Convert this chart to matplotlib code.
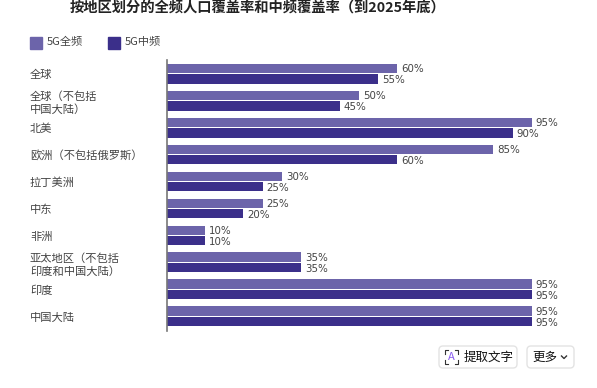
import matplotlib
matplotlib.use("Agg")
import matplotlib.pyplot as plt
from matplotlib.patches import FancyBboxPatch, Rectangle
import numpy as np

plt.rcParams['font.family'] = ['Noto Sans CJK SC', 'DejaVu Sans']

categories = ["全球", "全球（不包括\n中国大陆）", "北美", "欧洲（不包括俄罗斯）", "拉丁美洲",
              "中东", "非洲", "亚太地区（不包括\n印度和中国大陆）", "印度", "中国大陆"]
full_band = [60, 50, 95, 85, 30, 25, 10, 35, 95, 95]
mid_band = [55, 45, 90, 60, 25, 20, 10, 35, 95, 95]
series_names = ["5G全频", "5G中频"]
title = "按地区划分的全频人口覆盖率和中频覆盖率（到2025年底）"

W, H = 597, 388
LIGHT = "#6c64aa"
DARK = "#3b2f8a"
TXT = "#444444"

fig = plt.figure(figsize=(W / 100, H / 100), dpi=100)

# pixel helper for the overlay axes
bg = fig.add_axes([0, 0, 1, 1])
bg.set_xlim(0, W)
bg.set_ylim(H, 0)
bg.axis("off")

ax = fig.add_axes([166.5 / W, 1 - 330.5 / H, (W - 166.5) / W, 271 / H])
ax.patch.set_alpha(0)
y = np.arange(len(categories))
ax.barh(y - 0.2, full_band, height=0.34, color=LIGHT)
ax.barh(y + 0.2, mid_band, height=0.34, color=DARK)
ax.set_xlim(0, (W - 166.5) / 3.847)
ax.set_ylim(9.52, -0.52)

for i in range(len(categories)):
    ax.text(full_band[i] + 1, i - 0.17, f"{full_band[i]}%", va="center", ha="left",
            fontsize=7.4, color=TXT, family="DejaVu Sans")
    ax.text(mid_band[i] + 1, i + 0.23, f"{mid_band[i]}%", va="center", ha="left",
            fontsize=7.4, color=TXT, family="DejaVu Sans")

ax.set_yticks(y)
ax.set_yticklabels(categories, ha="left", fontsize=8.1, color=TXT, linespacing=1.3)
ax.tick_params(axis="y", length=0, pad=136.5 * 0.72)
ax.set_xticks([])
for s in ["top", "right", "bottom"]:
    ax.spines[s].set_visible(False)
ax.spines["left"].set_color("#777777")
ax.spines["left"].set_linewidth(1.2)

bg.text(258, 8, title, ha="center", va="center", fontsize=10.3, fontweight="bold", color="#222222")

# legend
bg.add_patch(Rectangle((30, 36.5), 12, 12, color=LIGHT))
bg.text(47, 42, series_names[0], va="center", fontsize=8, color=TXT)
bg.add_patch(Rectangle((108, 36.5), 12, 12, color=DARK))
bg.text(125, 42, series_names[1], va="center", fontsize=8, color=TXT)

# page buttons
bg.add_patch(FancyBboxPatch((439, 346), 78, 22, boxstyle="round,pad=0,rounding_size=4",
                            fc="white", ec="#e3e3e3", lw=1))
bg.add_patch(FancyBboxPatch((527, 346), 47, 22, boxstyle="round,pad=0,rounding_size=4",
                            fc="white", ec="#e3e3e3", lw=1))
bg.plot([445, 445, 448], [354, 350, 350], color="#333333", lw=0.8)
bg.plot([455, 458, 458], [350, 350, 354], color="#333333", lw=0.8)
bg.plot([445, 445, 448], [360, 364, 364], color="#333333", lw=0.8)
bg.plot([455, 458, 458], [364, 364, 360], color="#333333", lw=0.8)
bg.text(451.5, 357, "A", ha="center", va="center", fontsize=8, color="#8a5cf0")
bg.text(464, 357, "提取文字", va="center", fontsize=9, color="#111111")
bg.text(532, 357, "更多", va="center", fontsize=9, color="#111111")
bg.plot([561.5, 564, 566.5], [356, 358.5, 356], color="#333333", lw=1)

fig.savefig("out.png", dpi=100)
